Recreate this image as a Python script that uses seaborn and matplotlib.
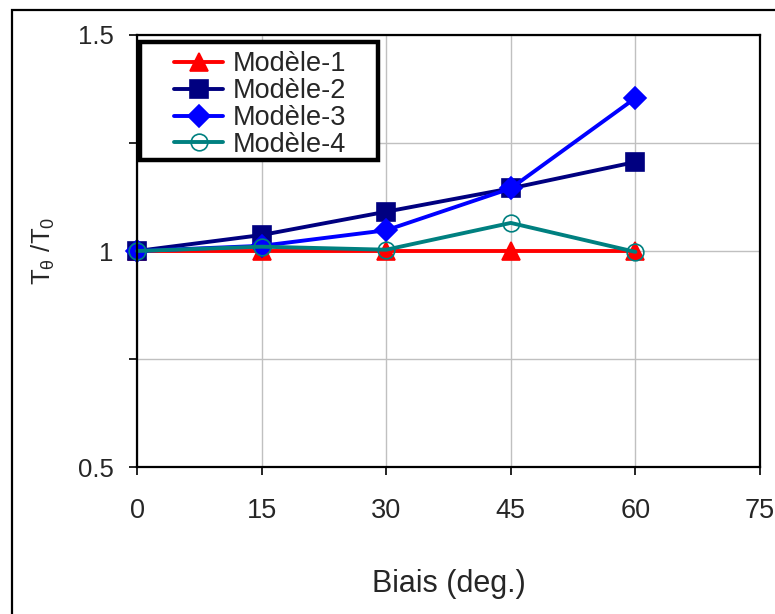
# Rapport T_theta / T_0 en fonction du biais pour les 4 modeles
import pandas as pd
import matplotlib
matplotlib.use("Agg")
import matplotlib.pyplot as plt
import seaborn as sns
from matplotlib.patches import Rectangle

biais = [0, 15, 30, 45, 60]
modele_1 = [1.0, 1.0, 1.0, 1.0, 1.0]
modele_2 = [1.0, 1.037, 1.091, 1.145, 1.206]
modele_3 = [1.0, 1.012, 1.048, 1.145, 1.354]
modele_4 = [1.0, 1.01, 1.003, 1.065, 0.998]
noms = ["Modèle-1", "Modèle-2", "Modèle-3", "Modèle-4"]

x_ticks = [0, 15, 30, 45, 60, 75]
y_ticks = [0.5, 0.75, 1.0, 1.25, 1.5]
y_labels = ["0.5", "", "1", "", "1.5"]

sns.set_style("white")
plt.rcParams["font.family"] = ["Liberation Sans", "DejaVu Sans"]
plt.rcParams["mathtext.default"] = "regular"

df = pd.DataFrame({
    "Biais": biais * 4,
    "T": modele_1 + modele_2 + modele_3 + modele_4,
    "Modele": [n for n in noms for _ in biais],
})

styles = {
    "Modèle-1": dict(color="#FF0000", marker="^", markersize=13, markerfacecolor="#FF0000"),
    "Modèle-2": dict(color="#000080", marker="s", markersize=12.5, markerfacecolor="#000080"),
    "Modèle-3": dict(color="#0000FF", marker="D", markersize=11, markerfacecolor="#0000FF"),
    "Modèle-4": dict(color="#008080", marker="o", markersize=12, markerfacecolor="none"),
}

fig = plt.figure(figsize=(7.75, 6.14), dpi=100)
ax = fig.add_axes([0.1768, 0.2394, 0.8038, 0.7036])

for nom in noms:
    st = styles[nom]
    sub = df[df["Modele"] == nom]
    sns.lineplot(
        data=sub, x="Biais", y="T", ax=ax, label=nom,
        color=st["color"], marker=st["marker"], markersize=st["markersize"],
        markerfacecolor=st["markerfacecolor"], markeredgecolor=st["color"],
        markeredgewidth=1.2, linewidth=2.8, clip_on=False,
    )

ax.set_xlim(0, 75)
ax.set_ylim(0.5, 1.5)
ax.set_xticks(x_ticks)
ax.set_yticks(y_ticks)
ax.set_yticklabels(y_labels)
ax.grid(True, color="#c0c0c0", linewidth=1)
ax.set_axisbelow(True)
for s in ax.spines.values():
    s.set_visible(True)
    s.set_color("black")
    s.set_linewidth(1.6)
ax.tick_params(axis="both", direction="out", length=6, width=1.2, color="black",
               left=True, bottom=True)
ax.tick_params(axis="y", pad=11, labelsize=18.5)
ax.tick_params(axis="x", pad=16, labelsize=19.5)

ax.set_xlabel("Biais (deg.)", fontsize=22, labelpad=33)
ax.set_ylabel("T$_{θ}$ /T$_{0}$", fontsize=18.5, labelpad=15)

# legende sans cadre + cadre epais dessine a part (marges laterales larges)
leg = ax.legend(loc="upper left", bbox_to_anchor=(0.06, 0.962), fontsize=19.5,
                handlelength=1.8, handletextpad=0.35, labelspacing=0.03,
                borderpad=0.0, frameon=False, borderaxespad=0.0)
ax.add_patch(Rectangle((0.0048, 0.7106), 0.382, 0.2732, transform=ax.transAxes,
                       facecolor="white", edgecolor="black", linewidth=3.2,
                       zorder=4.9, clip_on=False))
leg.set_zorder(5)

fig.patches.append(Rectangle((12 / 775, -0.2), 1.2, 1.2 - 10 / 614,
                             transform=fig.transFigure, fill=False,
                             edgecolor="black", linewidth=1.6))

fig.savefig("out.png", dpi=100)
plt.close(fig)
